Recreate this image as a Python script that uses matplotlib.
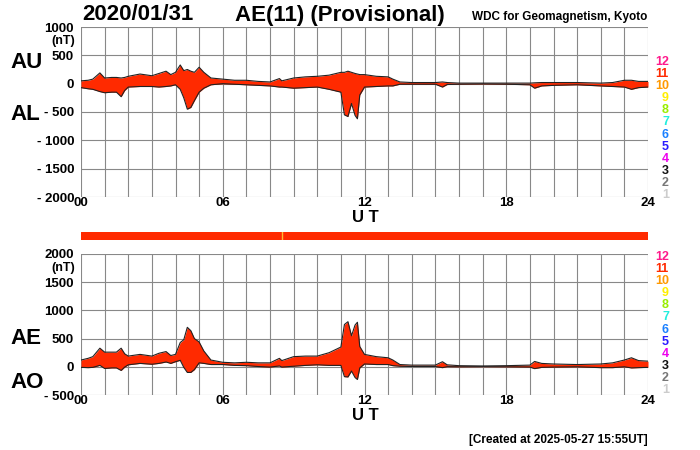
import matplotlib
matplotlib.use("Agg")
import matplotlib.pyplot as plt
import numpy as np

hours = [0, 0.3, 0.5, 0.8, 1.0, 1.3, 1.5, 1.7, 1.85, 2.0, 2.5, 3.0, 3.3, 3.6, 3.8, 4.0, 4.2, 4.35, 4.5, 4.65,
         4.8, 5.0, 5.2, 5.5, 6.0, 6.5, 7.0, 7.5, 8.0, 8.4, 8.5, 9.0, 9.5, 10.0, 10.5, 10.8, 11.0, 11.15, 11.3,
         11.45, 11.6, 11.7, 11.8, 12.0, 12.5, 13.0, 13.2, 13.5, 14.0, 15.0, 15.3, 15.5, 16.0, 17.0, 18.0, 19.0,
         19.2, 19.5, 20.0, 21.0, 22.0, 22.5, 23.0, 23.3, 23.6, 24.0]
AU = [50, 60, 80, 190, 100, 110, 110, 100, 110, 130, 170, 140, 180, 220, 160, 200, 330, 230, 250, 220,
      200, 290, 200, 100, 80, 60, 60, 40, 30, 90, 50, 100, 120, 130, 150, 180, 200, 200, 220,
      200, 180, 170, 160, 160, 130, 120, 80, 30, 20, 20, 30, 20, 10, 10, 10, 10,
      15, 20, 20, 20, 10, 20, 60, 60, 40, 40]
AL = [-70, -90, -100, -140, -160, -150, -150, -230, -120, -60, -50, -50, -60, -50, -40, -20, -100, -250, -450, -420,
      -300, -150, -80, -20, 0, -10, -20, -30, -40, -60, -60, -80, -70, -60, -100, -130, -150, -550, -580,
      -350, -560, -620, -200, -60, -50, -40, -40, -10, -10, -10, -60, -15, -10, -5, -10, -20,
      -80, -40, -30, -20, -40, -50, -60, -100, -70, -60]
AE = [u - l for u, l in zip(AU, AL)]
AO = [(u + l) / 2 for u, l in zip(AU, AL)]

top_ticks = [1000, 500, 0, -500, -1000, -1500, -2000]
bot_ticks = [2000, 1500, 1000, 500, 0, -500]
x_labels = {0: "00", 6: "06", 12: "12", 18: "18", 24: "24"}
scale_nums = ["12", "11", "10", "9", "8", "7", "6", "5", "4", "3", "2", "1"]
scale_cols = ["#ff1a8c", "#ff2a00", "#ff9900", "#ffee00", "#99ee00", "#22eedd", "#1a80ff", "#2a1aff",
              "#ee00ee", "#111111", "#777777", "#cccccc"]

plt.rcParams['font.family'] = ['Liberation Sans', 'DejaVu Sans']
plt.rcParams['font.weight'] = 'bold'
RED = "#ff2a00"

fig = plt.figure(figsize=(7, 4.5), dpi=100)
W, H = 700, 450
def ax_at(x0, y0, x1, y1):
    return fig.add_axes([x0 / W, 1 - y1 / H, (x1 - x0) / W, (y1 - y0) / H])

def lbl(v):
    return f"- {abs(v)}" if v < 0 else str(v)

def panel(ax, lo, hi, ticks, top, bottom, ytop, ybot):
    ax.fill_between(hours, bottom, top, color=RED, lw=0)
    ax.plot(hours, top, color="#222", lw=0.8)
    ax.plot(hours, bottom, color="#222", lw=0.8)
    ax.set_xlim(0, 24); ax.set_ylim(lo, hi)
    ax.set_xticks(range(25))
    ax.set_xticklabels([x_labels.get(h, "") for h in range(25)], fontsize=9.5, fontweight='bold')
    ax.set_yticks(ticks)
    ax.set_yticklabels([lbl(t) for t in ticks], fontsize=9.5, fontweight='bold')
    ax.tick_params(axis='x', length=0, pad=0)
    ax.tick_params(axis='y', length=0, pad=5)
    ax.grid(True, color="#888", lw=0.8)
    ax.set_axisbelow(True)
    for s in ax.spines.values():
        s.set_visible(False)
    fig.text(75 / W, 1 - (ytop + 14) / H, "(nT)", ha='right', va='center', fontsize=9)
    fig.text(365 / W, 1 - (ybot + 21) / H, "U T", ha='center', va='center', fontsize=12)

ax1 = ax_at(81, 27, 648, 197)
panel(ax1, -2000, 1000, top_ticks, AU, AL, 27, 197)
ax2 = ax_at(81, 254, 648, 395)
panel(ax2, -500, 2000, bot_ticks, AE, AO, 254, 395)

axb = ax_at(81, 232, 648, 240)
axb.axhspan(0, 1, color=RED)
axb.axvline(8.5, color="#ffbb33", lw=1)
axb.set_xlim(0, 24); axb.set_ylim(0, 1); axb.axis('off')

fig.text(82 / W, 1 - 15 / H, "2020/01/31", fontsize=16, ha='left', va='center')
fig.text(235 / W, 1 - 15 / H, "AE(11) (Provisional)", fontsize=16, ha='left', va='center')
fig.text(647 / W, 1 - 17 / H, "WDC for Geomagnetism, Kyoto", fontsize=8.5, ha='right', va='center')
for t, y in [("AU", 62), ("AL", 114), ("AE", 338), ("AO", 383)]:
    fig.text(10 / W, 1 - y / H, t, fontsize=16, ha='left', va='center')
for y0 in (62, 257):
    for i, (n, c) in enumerate(zip(scale_nums, scale_cols)):
        fig.text(669 / W, 1 - (y0 + i * 12.1) / H, n, color=c, fontsize=9, ha='right', va='center')
fig.text(648 / W, 1 - 440 / H, "[Created at 2025-05-27 15:55UT]", fontsize=8.5, ha='right', va='center')

fig.savefig("out.png", dpi=100, facecolor='white')
